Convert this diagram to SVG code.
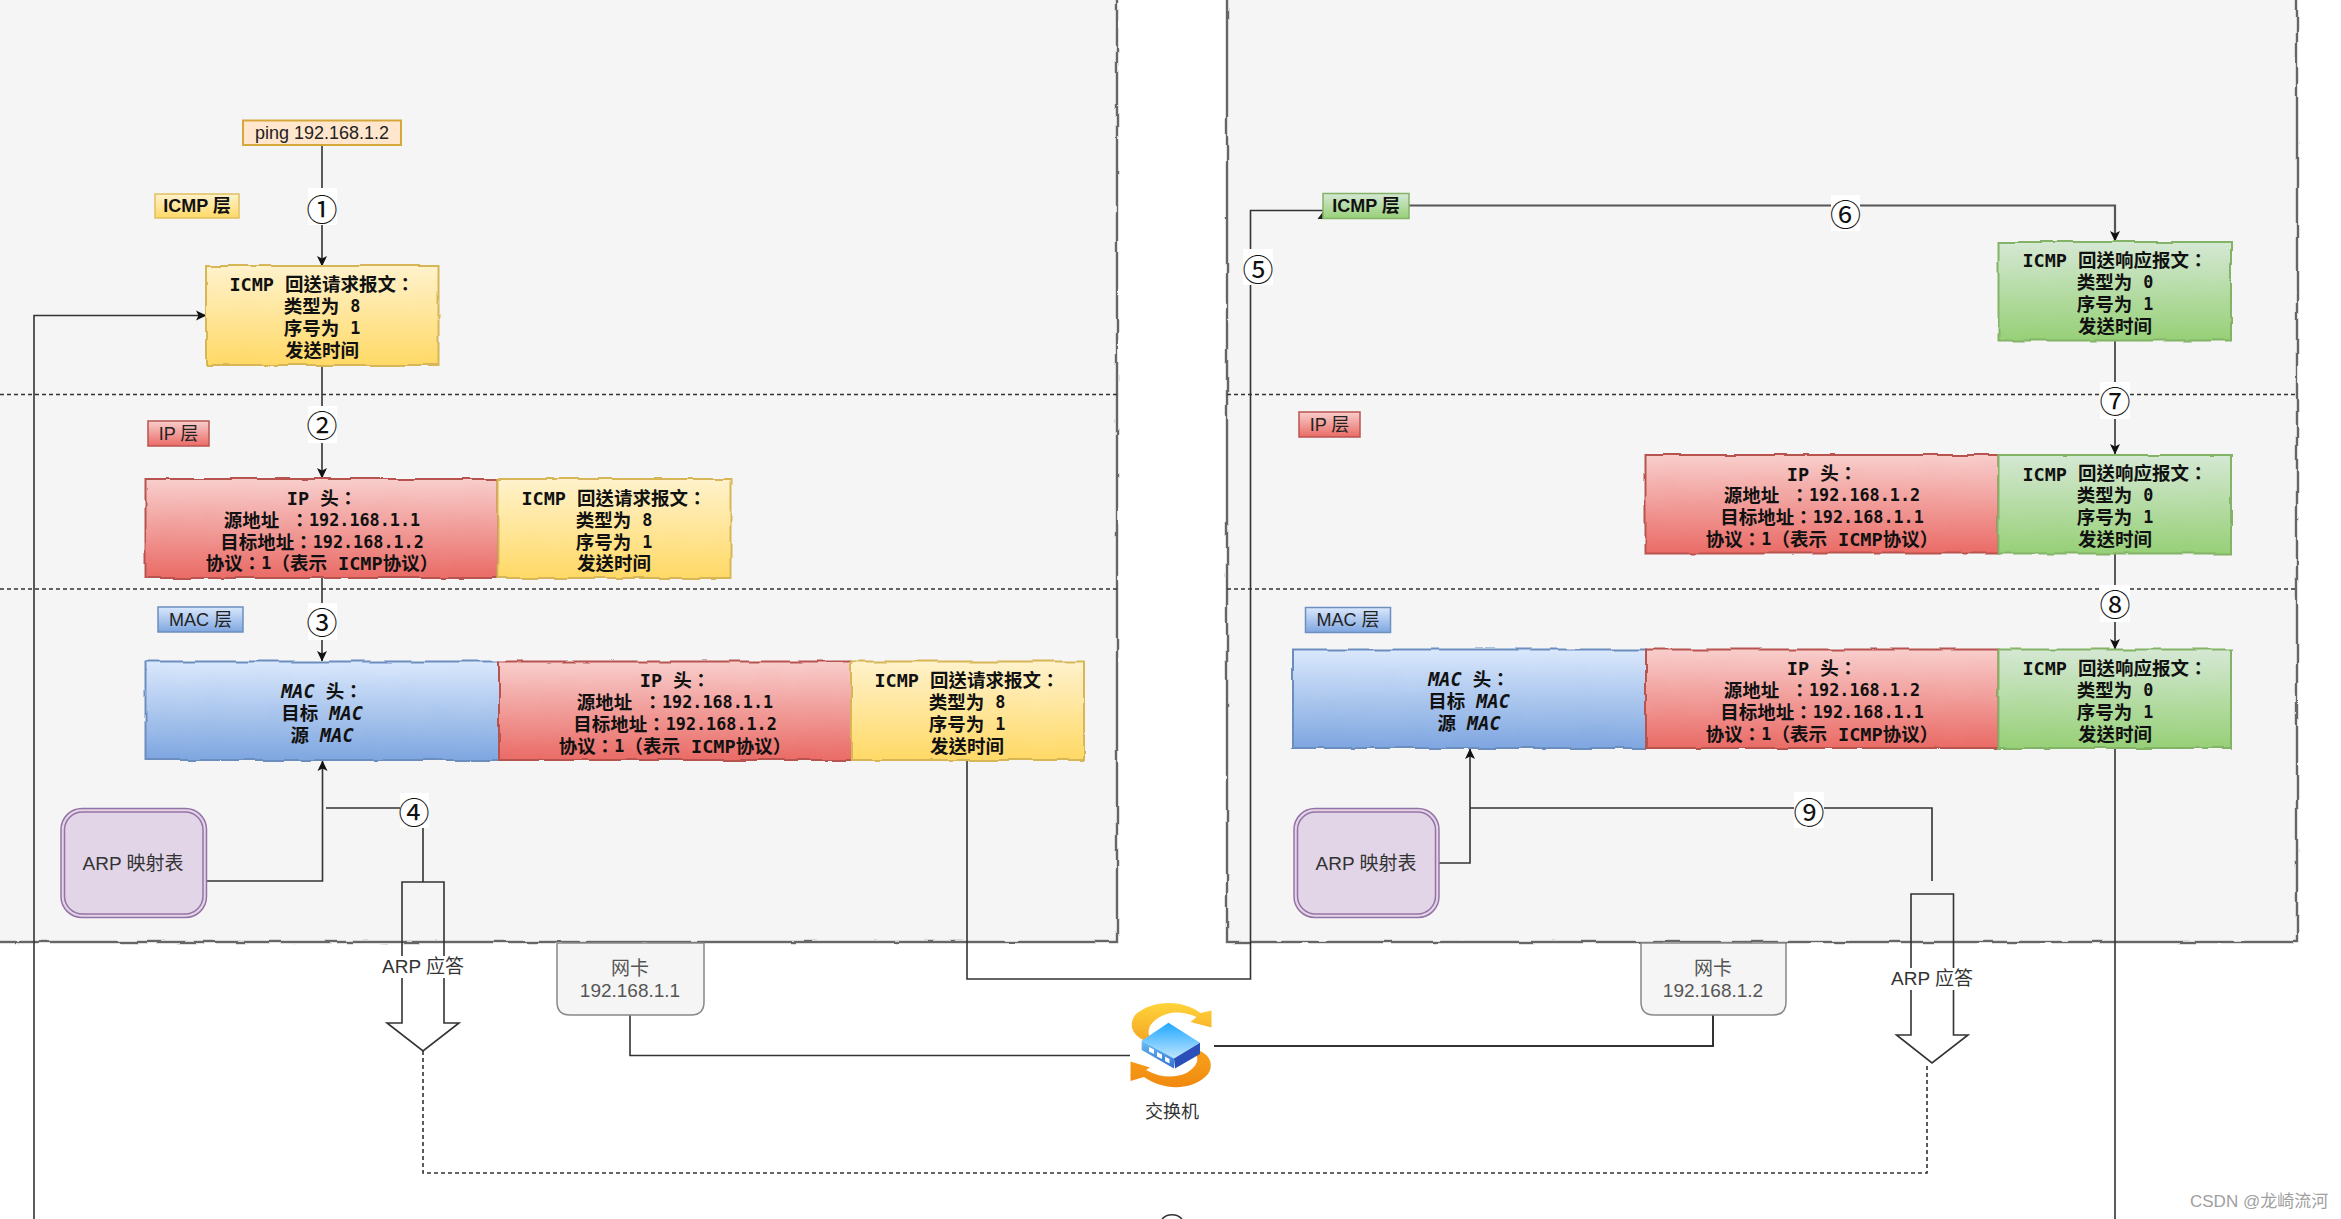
<svg xmlns="http://www.w3.org/2000/svg" width="2341" height="1219" viewBox="0 0 2341 1219">
<style>
  .cn { font-family: "Liberation Sans", "Noto Sans CJK SC", sans-serif; font-size: 18px; fill: #222; text-anchor: middle; dominant-baseline: central; }
  .hd { font-family: "DejaVu Sans Mono", "Noto Sans CJK TC", monospace; font-size: 18.5px; font-weight: 700; fill: #111; text-anchor: middle; dominant-baseline: central; }
  .hd tspan { font-family: "Noto Sans CJK TC", sans-serif; }
  .hd .n { font-family: "DejaVu Sans Mono", monospace; font-size: 16.8px; }
  .hd .lat { font-family: "DejaVu Sans Mono", monospace; }
  .hd .mac { font-family: "DejaVu Sans Mono", monospace; font-style: oblique; }
  .bold { font-weight: 700; fill: #111; }
  .no { font-family: "Noto Sans CJK SC", sans-serif; font-size: 31px; fill: #111; text-anchor: middle; dominant-baseline: central; }
  .ln { fill: none; stroke: #333; stroke-width: 1.6; }
  .arr { marker-end: url(#tip); }
  .sep { fill: none; stroke: #333; stroke-width: 1.5; stroke-dasharray: 4 3; }
  .panel { fill: #f5f5f5; stroke: #666; stroke-width: 2.4; filter: url(#rough); }
  .y { fill: url(#gy); stroke: #d6b656; stroke-width: 2; filter: url(#rough); }
  .r { fill: url(#gr); stroke: #b85450; stroke-width: 2; filter: url(#rough); }
  .b { fill: url(#gb); stroke: #6c8ebf; stroke-width: 2; filter: url(#rough); }
  .g { fill: url(#gg); stroke: #82b366; stroke-width: 2; filter: url(#rough); }
  .tagy { fill: url(#gy); stroke: #e0c060; stroke-width: 1.5; }
  .tagr { fill: url(#gr); stroke: #b85450; stroke-width: 1.5; }
  .tagb { fill: url(#gb); stroke: #6c8ebf; stroke-width: 1.5; }
  .tagg { fill: url(#gg); stroke: #82b366; stroke-width: 1.5; }
  .nic { fill: #f5f5f5; stroke: #888; stroke-width: 1.5; }
  .big { fill: none; stroke: #333; stroke-width: 1.6; }
  .mask { fill: #fff; }
</style>
<defs>
  <filter id="rough" x="-3%" y="-6%" width="106%" height="112%" color-interpolation-filters="sRGB">
    <feTurbulence type="fractalNoise" baseFrequency="0.035" numOctaves="2" seed="4"/>
    <feDisplacementMap in="SourceGraphic" scale="4" xChannelSelector="R" yChannelSelector="G"/>
  </filter>
  <linearGradient id="gy" x1="0" y1="0" x2="0" y2="1"><stop offset="0" stop-color="#fff2cc"/><stop offset="1" stop-color="#ffd966"/></linearGradient>
  <linearGradient id="gr" x1="0" y1="0" x2="0" y2="1"><stop offset="0" stop-color="#f8cecc"/><stop offset="1" stop-color="#ea6b66"/></linearGradient>
  <linearGradient id="gb" x1="0" y1="0" x2="0" y2="1"><stop offset="0" stop-color="#dae8fc"/><stop offset="1" stop-color="#7ea6e0"/></linearGradient>
  <linearGradient id="gg" x1="0" y1="0" x2="0" y2="1"><stop offset="0" stop-color="#d5e8d4"/><stop offset="1" stop-color="#97d077"/></linearGradient>
  <linearGradient id="swY" x1="0" y1="0" x2="0" y2="1"><stop offset="0" stop-color="#ffd43a"/><stop offset="1" stop-color="#f5a623"/></linearGradient>
  <linearGradient id="swO" x1="0" y1="0" x2="0" y2="1"><stop offset="0" stop-color="#f9a11b"/><stop offset="1" stop-color="#f08a10"/></linearGradient>
  <linearGradient id="swT" x1="0" y1="0" x2="0" y2="1"><stop offset="0" stop-color="#1ea7ff"/><stop offset="1" stop-color="#bfe6ff"/></linearGradient>
  <linearGradient id="swF" x1="0" y1="0" x2="0" y2="1"><stop offset="0" stop-color="#6cc0f5"/><stop offset="1" stop-color="#2f6fd0"/></linearGradient>
  <marker id="tip" markerUnits="userSpaceOnUse" markerWidth="11" markerHeight="11" refX="10" refY="5.5" orient="auto">
    <path d="M0 0.5 L10.5 5.5 L0 10.5 L2.5 5.5 Z" fill="#111"/>
  </marker>
</defs>

<rect width="2341" height="1219" fill="#fff"/>

<!-- host panels -->
<g id="host-a"><rect class="panel" x="-30" y="-30" width="1147" height="972"/></g>
<g id="host-b"><rect class="panel" x="1227" y="-30" width="1070" height="972"/></g>

<!-- layer separators -->
<g id="separators">
  <path class="sep" d="M0 394.500H1117M0 589H1117M1227 394.500H2297M1227 589H2297"/>
</g>

<!-- connectors -->
<g id="connectors">
  <path class="ln arr" d="M322 145V266"/>
  <path class="ln arr" d="M322 365V478"/>
  <path class="ln arr" d="M322 578V661"/>
  <path class="ln arr" d="M34 1219V315.500H206"/>
  <path class="ln arr" d="M207 881H322.500V761"/>
  <path class="ln" d="M423 882V808H326"/>
  <path class="ln" d="M967 760V979H1250.500V210.500H1330"/>
  <path fill="#222" d="M1317.500 219L1325 209L1328 219Z"/>
  <path class="ln arr" style="stroke:#555;stroke-width:2.200" d="M1400 205.500H2115V241"/>
  <path class="ln arr" d="M2115 340V454"/>
  <path class="ln arr" d="M2115 553V649"/>
  <path class="ln" d="M2115 748V1219"/>
  <path class="ln arr" d="M1439 863H1470V749"/>
  <path class="ln" d="M1932 881V808H1470"/>
  <path class="ln" d="M630 1015V1055.500H1130"/>
  <path class="ln" style="stroke-width:2" d="M1713 1015V1046H1214"/>
  <path class="ln" stroke-dasharray="4 3" d="M423 1051V1173H1927V1063"/>
  <path class="ln" d="M1162 1219A14 14 0 0 1 1182 1219"/>

  <g id="step-1"><rect class="mask" x="308" y="188" width="29" height="37"/><text class="no" x="322" y="207.500">①</text></g>
  <g id="step-2"><rect class="mask" x="308" y="406" width="29" height="37"/><text class="no" x="322" y="423.500">②</text></g>
  <g id="step-3"><rect class="mask" x="308" y="603" width="29" height="37"/><text class="no" x="322" y="620.500">③</text></g>
  <g id="step-4"><rect class="mask" x="400" y="793" width="29" height="35"/><text class="no" x="414" y="810.500">④</text></g>
  <g id="step-5"><rect class="mask" x="1243" y="249" width="30" height="36"/><text class="no" x="1258" y="267.500">⑤</text></g>
  <g id="step-6"><rect class="mask" x="1831" y="195" width="29" height="36"/><text class="no" x="1845.500" y="212.500">⑥</text></g>
  <g id="step-7"><rect class="mask" x="2100" y="382" width="30" height="37"/><text class="no" x="2115" y="399">⑦</text></g>
  <g id="step-8"><rect class="mask" x="2100" y="585" width="30" height="37"/><text class="no" x="2115" y="602.500">⑧</text></g>
  <g id="step-9"><rect class="mask" x="1794" y="792" width="30" height="36"/><text class="no" x="1809" y="810">⑨</text></g>
</g>

<!-- left host -->
<g id="ping"><rect x="243" y="120.500" width="158" height="24.500" fill="#ffe6cc" stroke="#d6a83c" stroke-width="2"/><text class="cn" x="322" y="133">ping 192.168.1.2</text></g>
<g id="tag-icmp-a"><rect class="tagy" x="155" y="194" width="84" height="24"/><text class="cn bold" x="197" y="206">ICMP 层</text></g>
<g id="tag-ip-a"><rect class="tagr" x="148" y="421" width="61" height="25"/><text class="cn" x="178.500" y="434">IP 层</text></g>
<g id="tag-mac-a"><rect class="tagb" x="158" y="607" width="85" height="25"/><text class="cn" x="200.500" y="620">MAC 层</text></g>

<g id="icmp-req-a">
  <rect class="y" x="206" y="266" width="232.500" height="99"/>
  <text class="hd" x="322" y="284"><tspan class="lat">ICMP</tspan> 回送请求报文：</text>
  <text class="hd" x="322" y="306">类型为 <tspan class="n">8</tspan></text>
  <text class="hd" x="322" y="328">序号为 <tspan class="n">1</tspan></text>
  <text class="hd" x="322" y="350">发送时间</text>
</g>
<g id="ip-a">
  <rect class="r" x="145.500" y="479" width="353" height="99"/>
  <text class="hd" x="322" y="498"><tspan class="lat">IP</tspan> 头：</text>
  <text class="hd" x="322" y="520">源地址 ：<tspan class="n">192.168.1.1</tspan></text>
  <text class="hd" x="322" y="542">目标地址：<tspan class="n">192.168.1.2</tspan></text>
  <text class="hd" x="322" y="563">协议：<tspan class="n">1</tspan>（表示 <tspan class="lat">ICMP</tspan>协议）</text>
</g>
<g id="icmp-req-b">
  <rect class="y" x="498.500" y="479" width="232" height="99"/>
  <text class="hd" x="614" y="498"><tspan class="lat">ICMP</tspan> 回送请求报文：</text>
  <text class="hd" x="614" y="520">类型为 <tspan class="n">8</tspan></text>
  <text class="hd" x="614" y="542">序号为 <tspan class="n">1</tspan></text>
  <text class="hd" x="614" y="563">发送时间</text>
</g>
<g id="mac-a">
  <rect class="b" x="145.500" y="661.500" width="353.500" height="98.500"/>
  <text class="hd" x="322" y="691"><tspan class="mac">MAC</tspan> 头：</text>
  <text class="hd" x="322" y="713">目标 <tspan class="mac">MAC</tspan></text>
  <text class="hd" x="322" y="735">源 <tspan class="mac">MAC</tspan></text>
</g>
<g id="ip-b">
  <rect class="r" x="499" y="661.500" width="352" height="98.500"/>
  <text class="hd" x="675" y="680"><tspan class="lat">IP</tspan> 头：</text>
  <text class="hd" x="675" y="702">源地址 ：<tspan class="n">192.168.1.1</tspan></text>
  <text class="hd" x="675" y="724">目标地址：<tspan class="n">192.168.1.2</tspan></text>
  <text class="hd" x="675" y="746">协议：<tspan class="n">1</tspan>（表示 <tspan class="lat">ICMP</tspan>协议）</text>
</g>
<g id="icmp-req-c">
  <rect class="y" x="851" y="661.500" width="233" height="98.500"/>
  <text class="hd" x="967" y="680"><tspan class="lat">ICMP</tspan> 回送请求报文：</text>
  <text class="hd" x="967" y="702">类型为 <tspan class="n">8</tspan></text>
  <text class="hd" x="967" y="724">序号为 <tspan class="n">1</tspan></text>
  <text class="hd" x="967" y="746">发送时间</text>
</g>
<g id="arp-table-a">
  <rect x="61" y="808.500" width="145.500" height="109" rx="21" fill="#e1d5e7" stroke="#9673a6" stroke-width="1.500"/>
  <rect x="64.500" y="812" width="138.500" height="102" rx="18" fill="none" stroke="#9673a6" stroke-width="1.500"/>
  <text class="cn" x="133" y="863" style="font-size:19px;fill:#333">ARP 映射表</text>
</g>
<g id="arp-reply-a">
  <path class="big" d="M402 882H444V1023H459L423 1051L387 1023H402Z"/>
  <rect class="mask" x="382" y="956" width="82" height="22"/>
  <text class="cn" x="423" y="966.500" style="font-size:19px;fill:#333">ARP 应答</text>
</g>
<g id="nic-a">
  <path class="nic" d="M557 943H704V1002Q704 1015 691 1015H570Q557 1015 557 1002Z"/>
  <text class="cn" x="630" y="968" style="font-size:19px;fill:#555">网卡</text>
  <text class="cn" x="630" y="990" style="font-size:19px;fill:#555">192.168.1.1</text>
</g>

<!-- switch -->
<g id="switch">
  <path fill="url(#swY)" d="M1211.500 1010.500V1027.500L1190.500 1022L1196.500 1017C1180 1009 1160 1011 1150 1026C1147 1033 1149 1038 1153 1041L1143.500 1040C1131 1034 1129 1024 1135 1015C1150 1001 1180 998 1200.500 1013Z"/>
  <path fill="url(#swO)" d="M1130.500 1081V1061.500L1150 1067.500L1146 1070C1165 1081 1190 1078 1197 1062C1198 1057 1197 1053 1190 1050L1200 1051C1212 1056 1213 1067 1208 1074C1192 1092 1162 1090 1144 1077Z"/>
  <path fill="url(#swT)" d="M1168.500 1022.700L1200 1042.700L1174 1058.500L1141.700 1040.700Z"/>
  <path fill="url(#swF)" d="M1141.700 1040.700L1174 1058.500V1068.500L1141.700 1050Z"/>
  <path fill="#2a4fb8" d="M1174 1058.500L1200 1042.700V1054L1175 1068.500Z"/>
  <path fill="#fff" d="M1149 1047L1154 1049.500V1054L1149 1051.500ZM1157 1052L1162 1054.500V1059L1157 1056.500ZM1165 1056.500L1169.500 1059V1063.500L1165 1061Z"/>
  <text class="cn" x="1172" y="1111.500" style="fill:#333">交换机</text>
</g>

<!-- right host -->
<g id="tag-icmp-b"><rect class="tagg" x="1323" y="193.500" width="86" height="25"/><text class="cn bold" x="1366" y="206">ICMP 层</text></g>
<g id="tag-ip-b"><rect class="tagr" x="1299" y="412" width="61" height="25"/><text class="cn" x="1329.500" y="425">IP 层</text></g>
<g id="tag-mac-b"><rect class="tagb" x="1305.500" y="607.500" width="85" height="25"/><text class="cn" x="1348" y="620">MAC 层</text></g>

<g id="icmp-rep-a">
  <rect class="g" x="1998.500" y="242" width="232.500" height="98.500"/>
  <text class="hd" x="2115" y="260"><tspan class="lat">ICMP</tspan> 回送响应报文：</text>
  <text class="hd" x="2115" y="282">类型为 <tspan class="n">0</tspan></text>
  <text class="hd" x="2115" y="304">序号为 <tspan class="n">1</tspan></text>
  <text class="hd" x="2115" y="326">发送时间</text>
</g>
<g id="ip-c">
  <rect class="r" x="1645.500" y="455" width="353" height="98.500"/>
  <text class="hd" x="1822" y="473.500"><tspan class="lat">IP</tspan> 头：</text>
  <text class="hd" x="1822" y="495">源地址 ：<tspan class="n">192.168.1.2</tspan></text>
  <text class="hd" x="1822" y="517">目标地址：<tspan class="n">192.168.1.1</tspan></text>
  <text class="hd" x="1822" y="539">协议：<tspan class="n">1</tspan>（表示 <tspan class="lat">ICMP</tspan>协议）</text>
</g>
<g id="icmp-rep-b">
  <rect class="g" x="1998.500" y="455" width="232.500" height="98.500"/>
  <text class="hd" x="2115" y="473.500"><tspan class="lat">ICMP</tspan> 回送响应报文：</text>
  <text class="hd" x="2115" y="495">类型为 <tspan class="n">0</tspan></text>
  <text class="hd" x="2115" y="517">序号为 <tspan class="n">1</tspan></text>
  <text class="hd" x="2115" y="539">发送时间</text>
</g>
<g id="mac-b">
  <rect class="b" x="1293" y="649.500" width="353" height="98.500"/>
  <text class="hd" x="1469" y="679"><tspan class="mac">MAC</tspan> 头：</text>
  <text class="hd" x="1469" y="701">目标 <tspan class="mac">MAC</tspan></text>
  <text class="hd" x="1469" y="723">源 <tspan class="mac">MAC</tspan></text>
</g>
<g id="ip-d">
  <rect class="r" x="1646" y="649.500" width="352.500" height="98.500"/>
  <text class="hd" x="1822" y="668"><tspan class="lat">IP</tspan> 头：</text>
  <text class="hd" x="1822" y="690">源地址 ：<tspan class="n">192.168.1.2</tspan></text>
  <text class="hd" x="1822" y="712">目标地址：<tspan class="n">192.168.1.1</tspan></text>
  <text class="hd" x="1822" y="734">协议：<tspan class="n">1</tspan>（表示 <tspan class="lat">ICMP</tspan>协议）</text>
</g>
<g id="icmp-rep-c">
  <rect class="g" x="1998.500" y="649.500" width="232.500" height="98.500"/>
  <text class="hd" x="2115" y="668"><tspan class="lat">ICMP</tspan> 回送响应报文：</text>
  <text class="hd" x="2115" y="690">类型为 <tspan class="n">0</tspan></text>
  <text class="hd" x="2115" y="712">序号为 <tspan class="n">1</tspan></text>
  <text class="hd" x="2115" y="734">发送时间</text>
</g>
<g id="arp-table-b">
  <rect x="1294" y="808.500" width="145" height="109" rx="21" fill="#e1d5e7" stroke="#9673a6" stroke-width="1.500"/>
  <rect x="1297.500" y="812" width="138" height="102" rx="18" fill="none" stroke="#9673a6" stroke-width="1.500"/>
  <text class="cn" x="1366" y="863" style="font-size:19px;fill:#333">ARP 映射表</text>
</g>
<g id="arp-reply-b">
  <path class="big" d="M1911 894H1953.500V1035H1968L1932 1063L1896.500 1035H1911Z"/>
  <rect class="mask" x="1890" y="968" width="84" height="22"/>
  <text class="cn" x="1932" y="978.500" style="font-size:19px;fill:#333">ARP 应答</text>
</g>
<g id="nic-b">
  <path class="nic" d="M1641 943H1786V1002Q1786 1015 1773 1015H1654Q1641 1015 1641 1002Z"/>
  <text class="cn" x="1713" y="968" style="font-size:19px;fill:#555">网卡</text>
  <text class="cn" x="1713" y="990" style="font-size:19px;fill:#555">192.168.1.2</text>
</g>

<text x="2190" y="1207" style="font-family:'Liberation Sans','Noto Sans CJK SC',sans-serif;font-size:17px;fill:#a0a0a0">CSDN @龙崎流河</text>
</svg>
